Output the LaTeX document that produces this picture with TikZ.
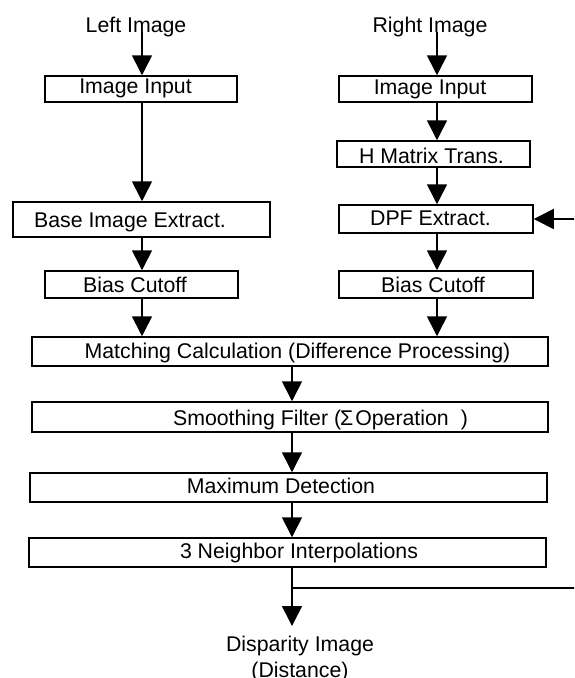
\documentclass[tikz,border=0pt]{standalone}
\usepackage{fontspec}
\setmainfont{Liberation Sans}
\usetikzlibrary{arrows.meta}
\begin{document}
\begin{tikzpicture}[x=1pt,y=-1pt,
  box/.style={draw, line width=1.5pt, inner sep=0pt},
  lbl/.style={anchor=base, inner sep=0pt, font=\fontsize{21.3}{26}\selectfont},
  arr/.style={line width=1.6pt, -{Triangle[width=20pt,length=20pt]}}]
\useasboundingbox (0,0) rectangle (574,678);
\fill[white] (0,0) rectangle (574,678);
\clip (0,0) rectangle (574,678);

% column coordinates
\coordinate (cl) at (142,0);
\coordinate (cr) at (437,0);
\coordinate (cm) at (292,0);

% inputs
\node[lbl] (tL) at (136,32) {Left Image};
\node[lbl] (tR) at (430,32) {Right Image};

% left column
\node[box, minimum width=192pt, minimum height=26pt] (iiL) at (141,89) {};
\node[lbl] (tiiL) at (135.5,93) {Image Input};
\node[box, minimum width=257pt, minimum height=35pt] (base) at (141.5,219.5) {};
\node[lbl] (tbase) at (130,227) {Base Image Extract.};
\node[box, minimum width=193pt, minimum height=27pt] (biasL) at (141.5,284.5) {};
\node[lbl] (tbiasL) at (135,292) {Bias Cutoff};

% right column
\node[box, minimum width=193pt, minimum height=26pt] (iiR) at (435.5,89) {};
\node[lbl] (tiiR) at (430,94) {Image Input};
\node[box, minimum width=193pt, minimum height=26pt] (hm) at (433.5,154) {};
\node[lbl] (thm) at (431.5,163) {H Matrix Trans.};
\node[box, minimum width=194pt, minimum height=28pt] (dpf) at (436,219) {};
\node[lbl] (tdpf) at (430.5,225) {DPF Extract.};
\node[box, minimum width=194pt, minimum height=27pt] (biasR) at (436,284.5) {};
\node[lbl] (tbiasR) at (433,292) {Bias Cutoff};

% common chain
\node[box, minimum width=516pt, minimum height=29pt] (match) at (290,351.5) {};
\node[lbl] (tmatch) at (297.5,358) {Matching Calculation (Difference Processing)};
\node[box, minimum width=516pt, minimum height=30pt] (smooth) at (290,417) {};
\node[lbl] (tsmooth) at (320.5,425) {Smoothing Filter (\kern-1pt Σ\kern2pt Operation\kern12pt)};
\node[box, minimum width=517pt, minimum height=29pt] (max) at (288.5,487.5) {};
\node[lbl] (tmax) at (281,493) {Maximum Detection};
\node[box, minimum width=517pt, minimum height=29pt] (nb) at (287.5,552.5) {};
\node[lbl] (tnb) at (299,558) {3 Neighbor Interpolations};

\node[lbl, anchor=north, align=center, inner xsep=0pt, inner ysep=9.5pt] (disp) at (300,626) {Disparity Image\\(Distance)};

% connectors
\draw[arr] (tL.base -| cl) -- (iiL.north -| cl);
\draw[arr] (iiL.south -| cl) -- (base.north -| cl);
\draw[arr] (base.south -| cl) -- (biasL.north -| cl);
\draw[arr] (biasL.south -| cl) -- (match.north -| cl);

\draw[arr] (tR.base -| cr) -- (iiR.north -| cr);
\draw[arr] (iiR.south -| cr) -- (hm.north -| cr);
\draw[arr] (hm.south -| cr) -- (dpf.north -| cr);
\draw[arr] (dpf.south -| cr) -- (biasR.north -| cr);
\draw[arr] (biasR.south -| cr) -- (match.north -| cr);

\draw[arr] (match.south -| cm) -- (smooth.north -| cm);
\draw[arr] (smooth.south -| cm) -- (max.north -| cm);
\draw[arr] (max.south -| cm) -- (nb.north -| cm);
\draw[arr] (nb.south -| cm) -- (disp.north -| cm);

% feedback to DPF extraction
\coordinate (fb1) at (292,588);
\coordinate (fbx) at (600,588);
\draw[arr] (fb1) -- (fbx) |- (dpf.east);
\end{tikzpicture}
\end{document}
